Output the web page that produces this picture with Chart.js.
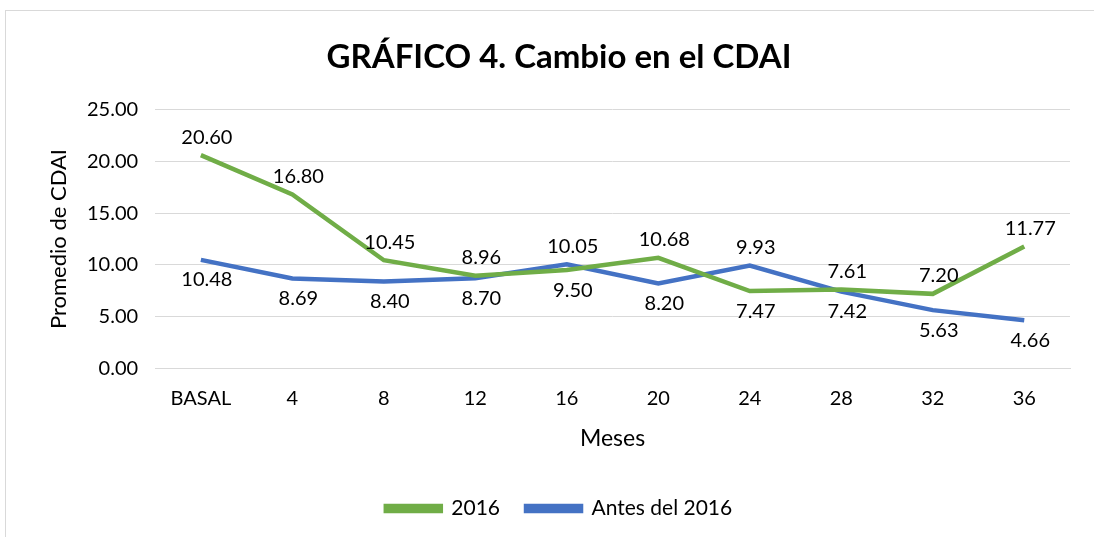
<!DOCTYPE html>
<html>
<head>
<meta charset="utf-8">
<script src="https://cdn.jsdelivr.net/npm/chart.js@4"></script>
<style>
  html, body { margin: 0; padding: 0; background: #fff; overflow: hidden; }
  #frame { position: absolute; left: 5px; top: 10px; width: 1200px; height: 600px; border: 1px solid #d9d9d9; }
  #wrap { position: absolute; left: 0; top: 0; width: 1094px; height: 537px; }
</style>
</head>
<body>
<div id="frame"></div>
<div id="wrap"><canvas id="lineChart"></canvas></div>
<script>
// DATA

const meses = ['BASAL', '4', '8', '12', '16', '20', '24', '28', '32', '36'];
const serie2016 = [20.60, 16.80, 10.45, 8.96, 9.50, 10.68, 7.47, 7.61, 7.20, 11.77];
const serieAntes = [10.48, 8.69, 8.40, 8.70, 10.05, 8.20, 9.93, 7.42, 5.63, 4.66];
const yTicks = [0, 5, 10, 15, 20, 25];

const FONT = 'Lato, "Open Sans", sans-serif';

// etiquetas de datos: la serie mas alta encima, la mas baja debajo
const dataLabels = {
    id: 'dataLabels',
    afterDatasetsDraw(chart) {
        const ctx = chart.ctx;
        ctx.save();
        ctx.font = '20px ' + FONT;
        ctx.fillStyle = '#000';
        ctx.textAlign = 'center';
        ctx.textBaseline = 'middle';
        chart.data.datasets.forEach((ds, di) => {
            const meta = chart.getDatasetMeta(di);
            meta.data.forEach((pt, i) => {
                const v = ds.data[i];
                const others = chart.data.datasets.map(d => d.data[i]);
                const top = v >= Math.max(...others);
                const y = top ? pt.y - 18 : pt.y + 20;
                ctx.fillText(v.toFixed(2), pt.x + 6, y);
            });
        });
        ctx.restore();
    }
};

const lineChart = document.getElementById('lineChart');

new Chart(lineChart, {
    type: 'line',
    data: {
        labels: meses,
        datasets: [
            {
                label: '2016',
                data: serie2016,
                borderColor: '#70ad47',
                backgroundColor: '#70ad47',
                borderWidth: 4.5,
                pointRadius: 0,
                tension: 0
            },
            {
                label: 'Antes del 2016',
                data: serieAntes,
                borderColor: '#4472c4',
                backgroundColor: '#4472c4',
                borderWidth: 4.5,
                pointRadius: 0,
                tension: 0
            }
        ]
    },
    options: {
        responsive: true,
        maintainAspectRatio: false,
        animation: false,
        layout: { padding: { left: 48, right: 24, top: 38, bottom: 8 } },
        plugins: {
            title: {
                display: true,
                text: 'GRÁFICO 4. Cambio en el CDAI',
                color: '#000',
                font: { family: FONT, size: 33, weight: 'bold' },
                padding: { top: 0, bottom: 32 }
            },
            legend: {
                position: 'bottom',
                labels: {
                    color: '#000',
                    font: { family: FONT, size: 21 },
                    boxWidth: 55,
                    boxHeight: 5,
                    padding: 26
                }
            },
            tooltip: { enabled: false }
        },
        scales: {
            x: {
                offset: true,
                grid: { display: false },
                border: { color: '#d9d9d9' },
                ticks: { color: '#000', font: { family: FONT, size: 20 }, padding: 10 },
                title: { display: true, text: 'Meses', color: '#000', font: { family: FONT, size: 23 }, padding: { top: 4, bottom: 20 } }
            },
            y: {
                min: 0,
                max: 25,
                afterBuildTicks: axis => { axis.ticks = yTicks.map(v => ({ value: v })); },
                grid: { color: '#d9d9d9', drawTicks: false },
                border: { display: false },
                ticks: {
                    color: '#000',
                    font: { family: FONT, size: 20 },
                    padding: 17,
                    callback: v => v.toFixed(2)
                },
                title: { display: true, text: 'Promedio de CDAI', color: '#000', font: { family: FONT, size: 22, lineHeight: 1 }, padding: { top: 0, bottom: 0 } }
            }
        }
    },
    plugins: [dataLabels]
});
</script>
</body>
</html>
